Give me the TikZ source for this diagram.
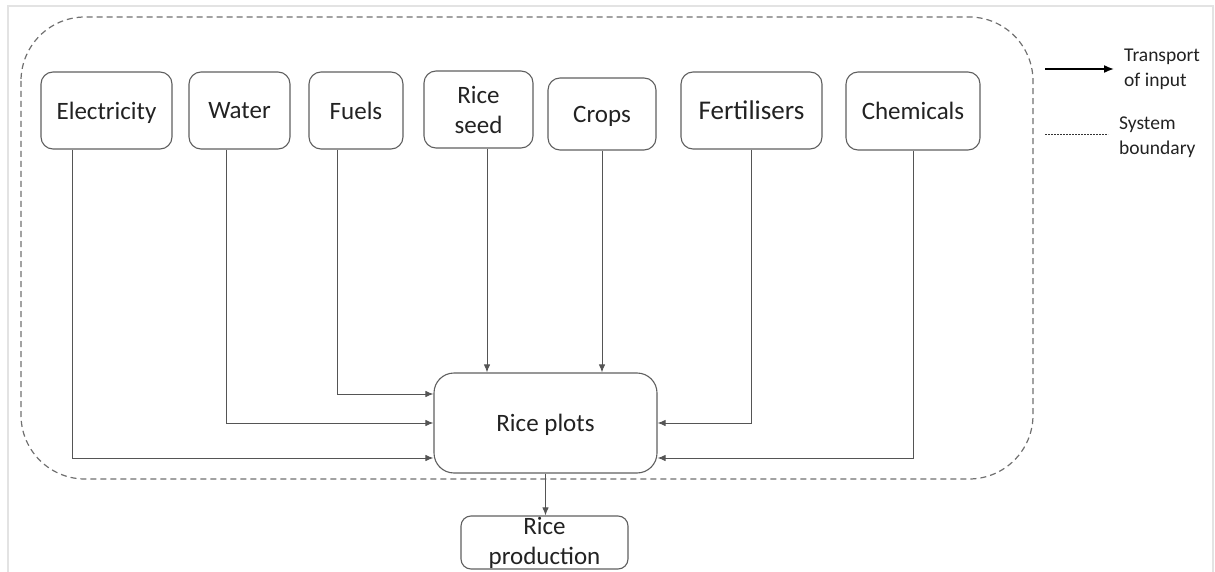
\documentclass[tikz,border=0pt]{standalone}
\usepackage{fontspec}
\setmainfont{Carlito}
\usetikzlibrary{arrows.meta}

\definecolor{boxline}{HTML}{5F5F5F}
\definecolor{linkline}{HTML}{555555}
\definecolor{bound}{HTML}{707070}
\definecolor{frame}{HTML}{E3E3E3}
\definecolor{ink}{HTML}{222222}

\tikzset{
  inbox/.style={draw=boxline, line width=1.1pt, rounded corners=12pt,
    inner sep=0pt, align=center, text=ink,
    font=\fontsize{25pt}{30pt}\selectfont},
  oneline/.style={text depth=0pt},
  link/.style={draw=linkline, line width=1pt,
    -{Latex[length=8pt,width=6.5pt]}},
  boundary/.style={draw=bound, line width=1.2pt, dash pattern=on 6pt off 4pt,
    rounded corners=64pt},
  legendtext/.style={anchor=west, align=left, inner sep=0pt, text=ink,
    font=\fontsize{19.5pt}{25pt}\selectfont},
}

\begin{document}
\begin{tikzpicture}[x=1pt,y=-1pt]
\useasboundingbox (0,0) rectangle (1215,572);

% page frame
\draw[frame, line width=1.5pt] (8,572) -- (8,6) -- (1213,6) -- (1213,572);

% system boundary
\draw[boundary] (21,17) rectangle (1033,479);

% inputs
\node[inbox, oneline, minimum width=131pt, minimum height=77pt] (elec)  at (106.5,110.5) {Electricity};
\node[inbox, oneline, minimum width=101pt, minimum height=77pt] (water) at (239.5,110.5) {Water};
\node[inbox, oneline, minimum width=94pt,  minimum height=77pt] (fuels) at (356,110.5) {Fuels};
\node[inbox, minimum width=109pt, minimum height=77pt] (seed)  at (478.5,109.5) {Rice\\seed};
\node[inbox, oneline, minimum width=108pt, minimum height=72pt] (crops) at (602,114) {Crops};
\node[inbox, oneline, minimum width=141pt, minimum height=77pt,
      font=\fontsize{27pt}{30pt}\selectfont] (fert) at (751.5,110.5) {Fertilisers};
\node[inbox, oneline, minimum width=134pt, minimum height=78pt] (chem)  at (913,111) {Chemicals};

% process and output
\node[inbox, oneline, rounded corners=20pt, minimum width=223pt, minimum height=100pt] (plots) at (545.5,423) {Rice plots};
\node[inbox, rounded corners=10pt, minimum width=167pt, minimum height=53pt] (prod) at (544.5,542.5) {Rice\\production};

% transport of inputs into the rice plots
\draw[link] ([xshift=32pt]elec.south west)  |- ([yshift=-35pt]plots.west);
\draw[link] ([xshift=38pt]water.south west) |- (plots.west);
\draw[link] ([xshift=29pt]fuels.south west) |- ([yshift=29pt]plots.west);
\draw[link] ([xshift=8.5pt]seed.south) -- ([xshift=8.5pt]seed.south |- plots.north);
\draw[link] (crops.south) -- (crops.south |- plots.north);
\draw[link] (fert.south) |- (plots.east);
\draw[link] (chem.south) |- ([yshift=-35pt]plots.east);
\draw[link] (plots.south) -- (plots.south |- prod.north);

% legend
\coordinate (arrA) at (1045,69);
\coordinate (arrB) at (1114,69);
\draw[black, line width=1.6pt, -{Latex[length=10pt,width=8pt]}] (arrA) -- (arrB);
\node[legendtext] (legT) at (1124,69.5) {Transport\\of input};
\coordinate (dotA) at (1045,135);
\coordinate (dotB) at (1108,135);
\draw[black!80, line width=1pt, dash pattern=on 2pt off 1pt] (dotA) -- (dotB);
\node[legendtext] (legS) at (1119,137) {System\\boundary};
\end{tikzpicture}
\end{document}
